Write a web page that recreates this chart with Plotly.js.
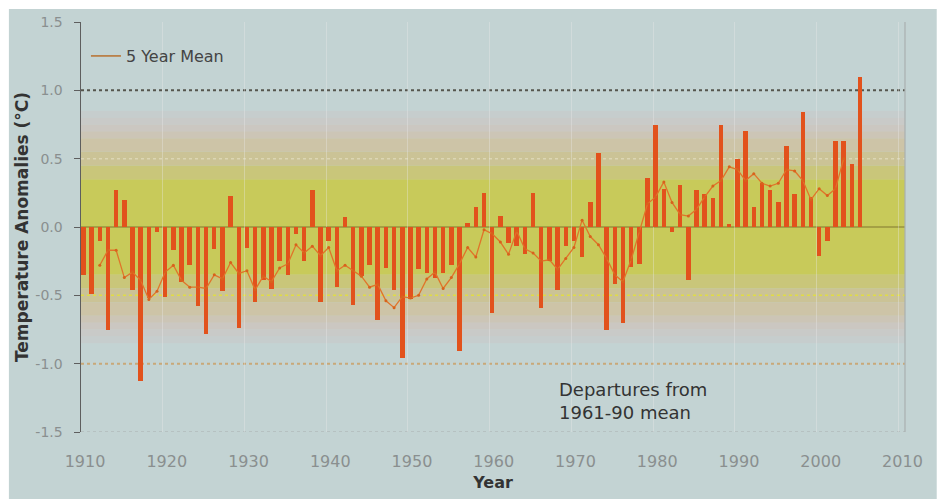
<!DOCTYPE html>
<html><head><meta charset="utf-8">
<script src="https://cdn.plot.ly/plotly-3.0.1.min.js"></script>
<style>html,body{margin:0;padding:0;background:#fff}</style>
</head><body><div id="chart" style="width:942px;height:499px"></div>
<script>
// ---- data ----
const years = [1910,1911,1912,1913,1914,1915,1916,1917,1918,1919,
  1920,1921,1922,1923,1924,1925,1926,1927,1928,1929,
  1930,1931,1932,1933,1934,1935,1936,1937,1938,1939,
  1940,1941,1942,1943,1944,1945,1946,1947,1948,1949,
  1950,1951,1952,1953,1954,1955,1956,1957,1958,1959,
  1960,1961,1962,1963,1964,1965,1966,1967,1968,1969,
  1970,1971,1972,1973,1974,1975,1976,1977,1978,1979,
  1980,1981,1982,1983,1984,1985,1986,1987,1988,1989,
  1990,1991,1992,1993,1994,1995,1996,1997,1998,1999,
  2000,2001,2002,2003,2004,2005];
const anomalies = [-0.35,-0.49,-0.10,-0.75,0.27,0.20,-0.46,-1.13,-0.52,-0.04,
  -0.51,-0.17,-0.40,-0.28,-0.58,-0.78,-0.16,-0.47,0.23,-0.74,
  -0.15,-0.55,-0.39,-0.45,-0.25,-0.35,-0.05,-0.25,0.27,-0.55,
  -0.10,-0.44,0.07,-0.57,-0.36,-0.28,-0.68,-0.30,-0.46,-0.96,
  -0.53,-0.31,-0.34,-0.37,-0.34,-0.28,-0.91,0.03,0.15,0.25,
  -0.63,0.08,-0.12,-0.14,-0.20,0.25,-0.59,-0.25,-0.46,-0.14,
  -0.10,-0.22,0.18,0.54,-0.75,-0.42,-0.70,-0.29,-0.27,0.36,
  0.75,0.28,-0.04,0.31,-0.39,0.27,0.24,0.21,0.75,0.02,
  0.50,0.70,0.15,0.32,0.27,0.18,0.59,0.24,0.84,0.22,
  -0.21,-0.10,0.63,0.63,0.46,1.10];
const meanYears = [1912,1913,1914,1915,1916,1917,1918,1919,
  1920,1921,1922,1923,1924,1925,1926,1927,1928,1929,
  1930,1931,1932,1933,1934,1935,1936,1937,1938,1939,
  1940,1941,1942,1943,1944,1945,1946,1947,1948,1949,
  1950,1951,1952,1953,1954,1955,1956,1957,1958,1959,
  1960,1961,1962,1963,1964,1965,1966,1967,1968,1969,
  1970,1971,1972,1973,1974,1975,1976,1977,1978,1979,
  1980,1981,1982,1983,1984,1985,1986,1987,1988,1989,
  1990,1991,1992,1993,1994,1995,1996,1997,1998,1999,
  2000,2001,2002,2003];
const meanValues = [-0.28,-0.17,-0.17,-0.37,-0.33,-0.39,-0.53,-0.47,
  -0.33,-0.28,-0.39,-0.44,-0.44,-0.45,-0.35,-0.38,-0.26,-0.34,
  -0.32,-0.46,-0.36,-0.40,-0.30,-0.27,-0.13,-0.19,-0.14,-0.21,
  -0.15,-0.32,-0.28,-0.32,-0.36,-0.44,-0.42,-0.54,-0.59,-0.51,
  -0.52,-0.50,-0.38,-0.33,-0.45,-0.37,-0.27,-0.15,-0.22,-0.02,
  -0.05,-0.11,-0.20,-0.03,-0.16,-0.19,-0.25,-0.24,-0.31,-0.23,
  -0.15,0.05,-0.07,-0.13,-0.23,-0.35,-0.40,-0.24,-0.03,0.17,
  0.22,0.33,0.18,0.09,0.08,0.13,0.22,0.30,0.34,0.44,
  0.42,0.34,0.39,0.32,0.30,0.32,0.42,0.41,0.34,0.20,
  0.28,0.23,0.28,0.50];
const yTickVals = [-1.5,-1.0,-0.5,0.0,0.5,1.0,1.5];
const yTickText = ['-1.5','-1.0','-0.5','0.0','0.5','1.0','1.5'];
const xTickVals = [1910,1920,1930,1940,1950,1960,1970,1980,1990,2000,2010];
const xTickText = ['1910','1920','1930','1940','1950','1960','1970','1980','1990','2000','2010'];

// ---- styling ----
const FONT = 'DejaVu Sans, Arial, sans-serif';
const BG = '#c3d3d3';
const GRID_SHIFT = 0.3; // decade grid sits a little left of the bar centres in the original
const bandSpec = [ // [from, to, colour] symmetric about zero
  [0.85, 0.80, '#c6cdcd'],
  [0.80, 0.75, '#c9cac8'],
  [0.75, 0.70, '#cbc7c1'],
  [0.70, 0.65, '#ccc5b6'],
  [0.65, 0.55, '#cdc4a7'],
  [0.55, 0.45, '#cbc396'],
  [0.45, 0.35, '#c9c67a'],
  [0.35, 0.00, '#c8ca5a']
];
const shapes = [];
shapes.push({type:'rect', xref:'paper', yref:'paper', x0:-0.0875, x1:1.0385, y0:-0.17, y1:1.0317,
  fillcolor:BG, line:{width:0}, layer:'below'});
bandSpec.forEach(b => {
  shapes.push({type:'rect', xref:'paper', yref:'y', x0:0, x1:1, y0:b[1], y1:b[0], fillcolor:b[2], line:{width:0}, layer:'below'});
  shapes.push({type:'rect', xref:'paper', yref:'y', x0:0, x1:1, y0:-b[0], y1:-b[1], fillcolor:b[2], line:{width:0}, layer:'below'});
});
const hlines = [
  [1.0, '#55554d', 2, 'dot'],
  [0.5, '#dcd6b4', 1.5, 'dot'],
  [0.0, '#98923e', 1.5, 'solid'],
  [-0.5, '#e0dc46', 1.5, 'dot'],
  [-1.0, '#c9a878', 2, 'dot'],
  [-1.5, '#b3bcbc', 1.5, 'dot']
];
hlines.forEach(h => shapes.push({type:'line', xref:'paper', yref:'y', x0:0, x1:1, y0:h[0], y1:h[0],
  line:{color:h[1], width:h[2], dash:h[3]}, layer:'below'}));
shapes.push({type:'line', xref:'paper', yref:'paper', x0:1, x1:1, y0:0, y1:1, line:{color:'#a9b0b0', width:1.2}, layer:'below'});

const traces = [
  {type:'bar', x:years, y:anomalies, width:0.55,
   marker:{color:'#e2521c', line:{width:0}}, showlegend:false, hoverinfo:'x+y'},
  {type:'scatter', mode:'lines+markers', x:meanYears, y:meanValues,
   name:'5 Year Mean', line:{color:'#e0742a', width:1.3}, marker:{size:3, color:'#d8621c'}, showlegend:false},
  // legend entry only (line without markers, as in the original key)
  {type:'scatter', mode:'lines', x:[null], y:[null], name:'5 Year Mean',
   line:{color:'#b8702e', width:1.5}, showlegend:true, hoverinfo:'skip'}
];

const layout = {
  width:942, height:499,
  margin:{l:81, r:37, t:22, b:67},
  paper_bgcolor:'#ffffff', plot_bgcolor:'rgba(0,0,0,0)',
  font:{family:FONT, color:'#444'},
  bargap:0,
  xaxis:{range:[1910 - GRID_SHIFT, 2010.8 - GRID_SHIFT],
    tickvals:xTickVals.map(v => v - GRID_SHIFT), ticktext:xTickText, showgrid:true,
    gridcolor:'rgba(235,235,235,0.35)', gridwidth:1, zeroline:false, showline:false, ticks:'',
    tickfont:{family:FONT, size:16, color:'#8a8f8f'}, ticklabelshift:4, ticklabelstandoff:18,
    title:{text:'Year', font:{family:FONT, size:16, color:'#333', weight:'bold'}, standoff:6}},
  yaxis:{range:[-1.5, 1.5], tickvals:yTickVals, ticktext:yTickText, showgrid:false, zeroline:false,
    showline:true, linecolor:'#5e5e5e', linewidth:1.5, ticks:'outside', ticklen:6, tickcolor:'#5e5e5e',
    tickfont:{family:FONT, size:14, color:'#8a8f8f'}, ticklabelstandoff:8,
    title:{text:'Temperature Anomalies (°C)', font:{family:FONT, size:17, color:'#333', weight:'bold'}, standoff:2}},
  legend:{x:0.006, y:0.917, xanchor:'left', yanchor:'middle', bgcolor:'rgba(0,0,0,0)',
    font:{family:FONT, size:16, color:'#444'}},
  showlegend:true,
  annotations:[{xref:'paper', yref:'paper', x:0.578, y:0.134, xanchor:'left', yanchor:'top', align:'left',
    text:'Departures from<br>1961-90 mean', showarrow:false, font:{family:FONT, size:18, color:'#333'}}],
  shapes:shapes
};
Plotly.newPlot('chart', traces, layout, {displayModeBar:false, staticPlot:true});
</script></body></html>
